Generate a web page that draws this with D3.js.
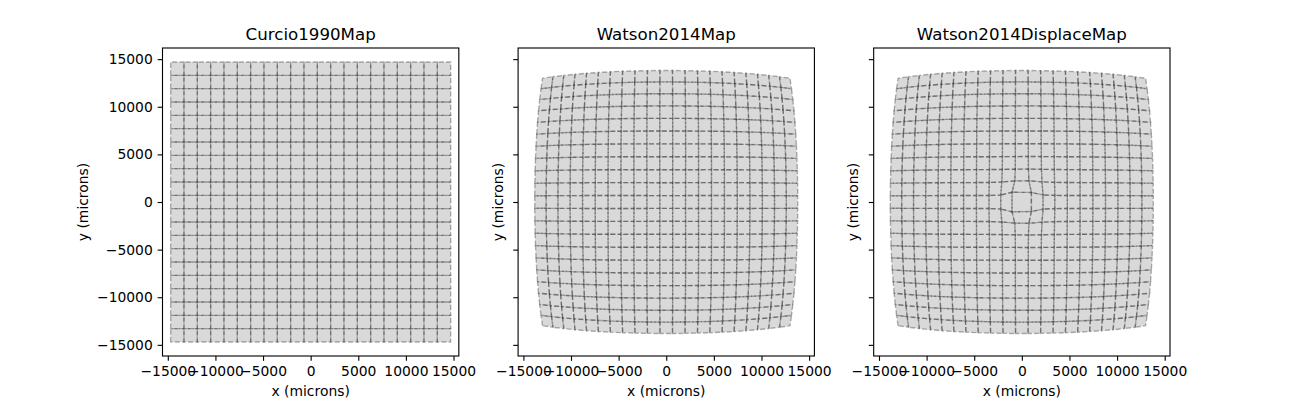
<!DOCTYPE html>
<html><head><meta charset="utf-8">
<script src="https://cdn.jsdelivr.net/npm/d3@7"></script>
<style>
body{margin:0;background:#fff}
text{font-family:"DejaVu Sans",sans-serif;fill:#000}
</style>
</head><body>
<svg id="chart" width="1300" height="400"></svg>
<script>
// ---- data ----
const mapNames = ["Curcio1990Map", "Watson2014Map", "Watson2014DisplaceMap"];
// grid cell centres in degrees of visual angle
const gridXdva = [-50,-45,-40,-35,-30,-25,-20,-15,-10,-5,0,5,10,15,20,25,30,35,40,45,50];
const gridYdva = [-50,-45,-40,-35,-30,-25,-20,-15,-10,-5,0,5,10,15,20,25,30,35,40,45,50];
const cellStep = [5];
const xTicks = [-15000,-10000,-5000,0,5000,10000,15000];
const yTicks = [-15000,-10000,-5000,0,5000,10000,15000];
// model parameters of the retinotopic maps
const curcioUmPerDeg = [280];
const watsonPolyMm = [0.268, 3.427e-4, -8.3309e-6];
const displaceTemporal = [1.8938, 2.4598, 0.91565, 14.904, -0.09386]; // alpha, beta, gamma, delta, mu
const displaceNasal    = [2.4607, 1.7463, 0.77754, 15.111, -0.15933];

// ---- model transforms ----
function gammaFn(z){
  const g = 7, c = [0.99999999999980993,676.5203681218851,-1259.1392167224028,771.32342877765313,
    -176.61503916999185,12.507343278686905,-0.13857109526572012,9.9843695780195716e-6,1.5056327351493116e-7];
  if (z < 0.5) return Math.PI/(Math.sin(Math.PI*z)*gammaFn(1-z));
  z -= 1; let x = c[0];
  for (let i=1;i<g+2;i++) x += c[i]/(z+i);
  const t = z+g+0.5;
  return Math.sqrt(2*Math.PI)*Math.pow(t,z+0.5)*Math.exp(-t)*x;
}
function curcio(x,y){ return [x*curcioUmPerDeg[0], y*curcioUmPerDeg[0]]; }
function watson(x,y){
  const r = Math.hypot(x,y), th = Math.atan2(y,x);
  const rmm = watsonPolyMm[0]*r + watsonPolyMm[1]*r*r + watsonPolyMm[2]*r*r*r;
  return [1000*rmm*Math.cos(th), 1000*rmm*Math.sin(th)];
}
function displacement(r, p){
  const [a,b,g,d,mu] = p;
  const rb = (Math.abs(r)-mu)/b;
  let num = d*g*Math.exp(-Math.pow(rb,g))*Math.pow(rb, a*g-1);
  return num/(b*gammaFn(a));
}
function watsonDisplace(x,y){
  const th = Math.atan2(y,x);
  let r = Math.hypot(x,y);
  r += displacement(r, x < 0 ? displaceTemporal : displaceNasal);
  return watson(r*Math.cos(th), r*Math.sin(th));
}
const transforms = [curcio, watson, watsonDisplace];

// ---- layout ----
const svg = d3.select("#chart");
const figW = 1300, figH = 400;
const axLeft = 0.125*figW, axRight = 0.9*figW, axTop = 0.12*figH, axBottom = 0.89*figH;
const axW = (axRight-axLeft)/(3+2*0.2), axH = axBottom-axTop;
const pt = 100/72;

// cells (polygons) per map
const half = cellStep[0]/2;
const cellsPerMap = transforms.map(tf => {
  const cells = [];
  gridXdva.forEach(gx => gridYdva.forEach(gy => {
    cells.push([[gx-half,gy-half],[gx-half,gy+half],[gx+half,gy+half],[gx+half,gy-half]].map(v => tf(v[0],v[1])));
  }));
  return cells;
});
// shared y limits: autoscale with 5% margin over all maps
const allY = cellsPerMap.flat(2).map(v=>v[1]);
const yMin = d3.min(allY), yMax = d3.max(allY), yPad = 0.05*(yMax-yMin);
const yDom = [yMin-yPad, yMax+yPad];
const xHalf = (yDom[1]-yDom[0])*axW/axH/2;

const fmt = d3.format("d");
mapNames.forEach((name,i) => {
  const x0 = axLeft + i*axW*1.2;
  const g = svg.append("g").attr("transform",`translate(${x0},${axTop})`);
  const xs = d3.scaleLinear().domain([-xHalf, xHalf]).range([0, axW]);
  const ys = d3.scaleLinear().domain(yDom).range([axH, 0]);
  g.append("clipPath").attr("id","clip"+i).append("rect").attr("width",axW).attr("height",axH);
  const pg = g.append("g").attr("clip-path",`url(#clip${i})`);
  const line = d3.line().x(d=>xs(d[0])).y(d=>ys(d[1]));
  pg.selectAll("path.cell").data(cellsPerMap[i]).join("path")
    .attr("class","cell")
    .attr("d", d => line(d)+"Z")
    .attr("fill","gray").attr("fill-opacity",0.3)
    .attr("stroke","#000").attr("stroke-opacity",0.3)
    .attr("stroke-width",1*pt)
    .attr("stroke-dasharray",`${3.7*pt},${1.6*pt}`);
  // axes
  const xa = g.append("g").attr("transform",`translate(0,${axH})`)
    .call(d3.axisBottom(xs).tickValues(xTicks).tickFormat(fmt).tickSize(3.5*pt).tickPadding(3.5*pt));
  const ya = g.append("g")
    .call(d3.axisLeft(ys).tickValues(yTicks).tickFormat(i===0?fmt:()=>"").tickSize(3.5*pt).tickPadding(3.5*pt));
  [xa,ya].forEach(a => {
    a.select(".domain").remove();
    a.selectAll("line").attr("stroke","#000").attr("stroke-width",0.8*pt);
    a.selectAll("text").attr("font-size",10*pt).attr("font-family","DejaVu Sans").attr("fill","#000");
  });
  g.append("rect").attr("width",axW).attr("height",axH).attr("fill","none")
    .attr("stroke","#000").attr("stroke-width",0.8*pt);
  g.append("text").attr("x",axW/2).attr("y",-6*pt).attr("text-anchor","middle")
    .attr("font-size",12*pt).text(name);
  g.append("text").attr("x",axW/2).attr("y",axH+39.7).attr("text-anchor","middle")
    .attr("font-size",10*pt).text("x (microns)");
  const ylx = i===0 ? -78.5 : -19;
  g.append("text").attr("transform",`translate(${ylx+3.7},${axH/2}) rotate(-90)`)
    .attr("text-anchor","middle").attr("font-size",10*pt).text("y (microns)");
});
</script>
</body></html>
